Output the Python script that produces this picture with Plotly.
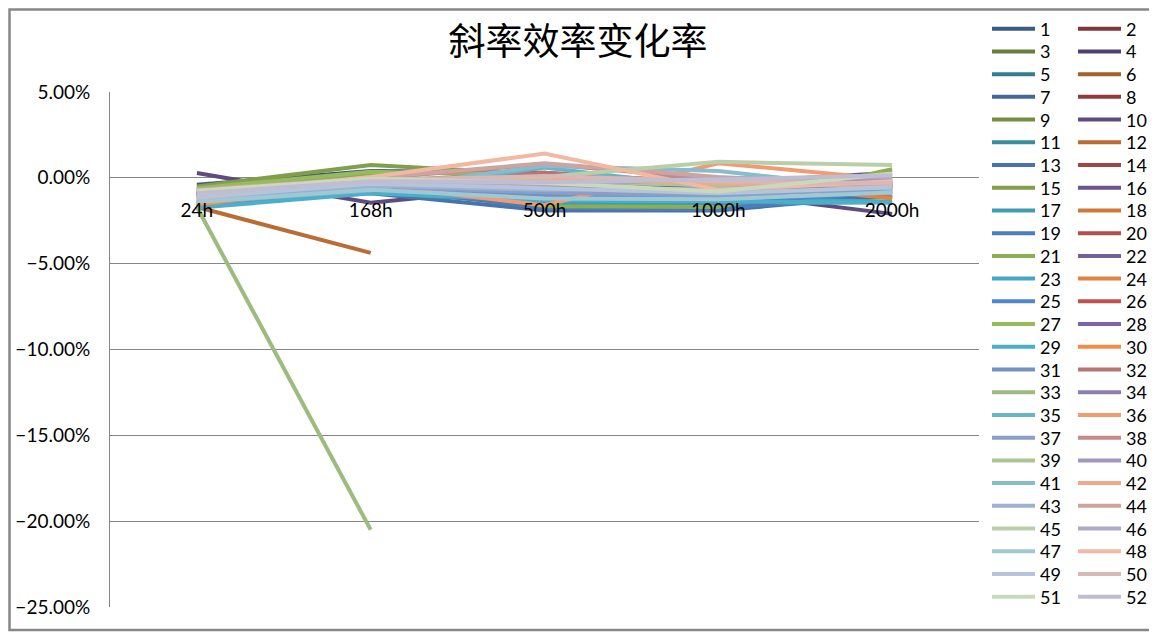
import plotly.graph_objects as go

# categories (test hours)
hours = ["24h", "168h", "500h", "1000h", "2000h"]

# slope efficiency change, in percent, one list per sample (None = not measured)
s1 = [-0.40, 0.40, 0.30, -0.40, -0.30]
s2 = [-0.90, -0.40, -0.20, -0.50, -0.40]
s3 = [-0.70, -0.10, -0.30, -0.60, -0.50]
s4 = [-1.00, -0.50, -0.70, -0.50, -0.20]
s5 = [-1.20, -0.60, -1.00, -1.30, -0.90]
s6 = [-1.40, -0.70, -0.60, -0.20, -0.60]
s7 = [-0.80, 0.30, -1.20, -1.40, -0.80]
s8 = [-1.10, -0.30, -0.40, -0.70, -0.60]
s9 = [-0.60, 0.10, -0.50, -0.90, -0.40]
s10 = [0.28, -1.45, -0.45, -0.85, -2.10]
s11 = [-1.50, -0.80, -1.40, -1.60, -1.10]
s12 = [-1.70, -4.37, None, None, None]
s13 = [-1.60, -0.90, -1.90, -1.90, -1.00]
s14 = [-1.00, -0.20, -0.30, -0.30, -0.50]
s15 = [-0.50, 0.75, 0.20, -0.30, 0.10]
s16 = [-0.90, -0.40, -0.65, -0.30, 0.30]
s17 = [-1.65, -0.85, -1.50, -1.55, -1.40]
s18 = [-1.70, -0.60, -0.40, -0.10, -1.15]
s19 = [-1.20, -0.55, -1.75, -1.85, -0.70]
s20 = [-0.80, -0.15, -0.10, -0.40, -0.60]
s21 = [-0.70, 0.20, -1.65, -1.70, 0.50]
s22 = [-1.10, -0.45, -0.60, -0.20, -0.10]
s23 = [-1.40, -0.70, -0.90, -1.20, -1.40]
s24 = [-1.65, -0.50, -0.20, -0.15, -1.20]
s25 = [-1.50, -0.85, -1.05, -1.50, -0.80]
s26 = [-0.95, -0.25, -0.15, -0.45, -0.70]
s27 = [-0.60, 0.35, 0.15, -0.20, -0.20]
s28 = [-1.05, -0.50, -0.60, -0.25, -0.30]
s29 = [-1.75, -0.90, -1.30, -1.40, -1.45]
s30 = [-1.55, -0.45, -0.30, -0.20, -0.90]
s31 = [-1.30, -0.60, -1.10, -0.90, -0.50]
s32 = [-0.85, -0.20, 0.30, -0.30, -0.40]
s33 = [-1.70, -20.50, None, None, None]
s34 = [-1.00, -0.40, -0.75, -0.60, -0.35]
s35 = [-1.45, -0.75, 0.60, -0.60, -0.90]
s36 = [-1.50, -0.40, -1.60, 0.85, -0.10]
s37 = [-1.25, -0.50, -0.85, -1.05, -0.60]
s38 = [-0.75, -0.05, 0.80, -0.10, -0.30]
s39 = [-0.90, -0.30, -0.20, -0.45, 0.00]
s40 = [-0.95, -0.35, -0.50, 0.00, -0.20]
s41 = [-1.35, -0.65, 0.70, 0.40, -0.70]
s42 = [-1.20, -0.25, -0.10, -0.30, -0.50]
s43 = [-1.10, -0.45, -0.70, -0.65, -0.25]
s44 = [-0.70, 0.00, 0.85, 0.05, -0.45]
s45 = [-0.80, -0.10, 0.05, 0.93, 0.75]
s46 = [-0.95, -0.30, -0.35, -0.05, 0.05]
s47 = [-1.40, -0.70, -1.20, -1.25, -0.85]
s48 = [-1.00, 0.05, 1.42, -0.70, -0.20]
s49 = [-1.15, -0.35, -0.60, -0.90, -0.55]
s50 = [-0.85, -0.15, 0.10, -0.20, -0.35]
s51 = [-0.75, -0.05, -0.30, -0.80, 0.25]
s52 = [-0.90, -0.20, -0.25, -0.10, 0.15]

series = [s1, s2, s3, s4, s5, s6, s7, s8, s9, s10, s11, s12, s13, s14, s15, s16,
          s17, s18, s19, s20, s21, s22, s23, s24, s25, s26, s27, s28, s29, s30,
          s31, s32, s33, s34, s35, s36, s37, s38, s39, s40, s41, s42, s43, s44,
          s45, s46, s47, s48, s49, s50, s51, s52]

# Excel-like shaded accent palette, darkest first
colors = [
    "#3B5B87", "#7F3735", "#667C3A", "#533F6E", "#327C8E", "#A5602C",
    "#42689A", "#8E3D3B", "#748D42", "#5F4B7D", "#3A8DA1", "#BA6C33",
    "#4973AB", "#A14644", "#819E4B", "#6A558C", "#409CB3", "#D0783A",
    "#4C7DB9", "#B24E4B", "#8DAD53", "#755F9B", "#45A8C3", "#E2833F",
    "#4F86C6", "#BF514E", "#97BA5A", "#7E64A2", "#4BAFC9", "#F38C45",
    "#7093C4", "#BA7473", "#9BBC7E", "#8C80AD", "#6BB3C6", "#F29B70",
    "#88A0C8", "#C78A89", "#ABC695", "#A197BD", "#87BCCC", "#F3A88A",
    "#9EB1D1", "#CEA3A2", "#B9CFA9", "#B0A9C6", "#9FC8D4", "#F1B8A2",
    "#B5C3DB", "#D7B8B7", "#C9DABC", "#C0BDD3",
]


def legend_id(row):
    return "legend" if row == 0 else f"legend{row + 1}"


fig = go.Figure()
for i, vals in enumerate(series):
    n = i + 1
    fig.add_trace(go.Scatter(
        x=hours,
        y=[v / 100 if v is not None else None for v in vals],
        mode="lines",
        name=str(n),
        line=dict(color=colors[i], width=4),
        # one horizontal legend per row: (1, 2), (3, 4), ...
        legend=legend_id(i // 2),
        connectgaps=False,
    ))

# the page body adds an 8px offset, so the figure is sized to fit after it
W, H = 1149, 625
L, R, T, B = 102, 178, 84, 26
pw, ph = W - L - R, H - T - B

grid = "#868686"
tick_font = dict(family="Lato, Noto Sans, sans-serif", size=19, color="black")
legend_font = dict(family="Lato, Noto Sans, sans-serif", size=18, color="black")

# legend grid: rows 22.7px apart, first row centred at y=21
legend_x = (979 - L) / pw
row_gap = 22.72
row_top = 21

legends = {}
for r in range(len(series) // 2):
    legends[legend_id(r)] = dict(
        orientation="h",
        x=legend_x, xanchor="left",
        y=(H - B - (row_top + r * row_gap)) / ph, yanchor="middle",
        font=legend_font, bgcolor="rgba(0,0,0,0)", borderwidth=0,
        itemwidth=43, entrywidth=28, entrywidthmode="pixels",
    )

fig.update_layout(
    width=W,
    height=H,
    paper_bgcolor="white",
    plot_bgcolor="white",
    margin=dict(l=L, r=R, t=T, b=B, autoexpand=False),
    title=dict(
        text="斜率效率变化率",
        font=dict(family="Noto Sans CJK SC", size=37, color="black"),
        x=570 / W, xanchor="center", xref="container",
        y=1 - 34 / H, yanchor="middle", yref="container",
    ),
    showlegend=True,
    xaxis=dict(
        type="category",
        range=[-0.5, 4.5],
        anchor="free",
        position=25 / 30,
        showline=False,
        showgrid=False,
        zeroline=False,
        ticks="",
        ticklabelstandoff=19,
        tickfont=tick_font,
    ),
    yaxis=dict(
        range=[-0.25, 0.05],
        tick0=0,
        dtick=0.05,
        tickformat=".2%",
        showgrid=True,
        gridcolor=grid,
        gridwidth=1,
        zeroline=False,
        showline=True,
        linecolor=grid,
        linewidth=1,
        ticks="",
        ticklabelstandoff=15,
        tickfont=tick_font,
    ),
    **legends,
)

# outer chart border like the Excel chart area
fig.add_shape(
    type="rect", xref="paper", yref="paper",
    x0=(1.5 - L) / pw, x1=(1145 - L) / pw,
    y0=(H - B - 622) / ph, y1=(H - B - 1.5) / ph,
    line=dict(color="#878787", width=2.5),
    fillcolor="rgba(0,0,0,0)",
    layer="below",
)

fig.write_html("out.html")
